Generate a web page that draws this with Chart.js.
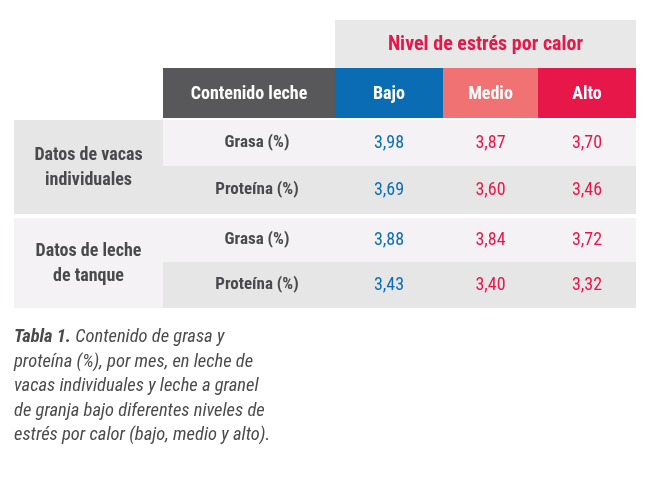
<!DOCTYPE html>
<html><head><meta charset="utf-8">
<script src="https://cdn.jsdelivr.net/npm/chart.js@4.4.1/dist/chart.umd.min.js"></script>
<style>html,body{margin:0;background:#fff}canvas{display:block}</style>
</head><body>
<canvas id="tbl" width="659" height="482"></canvas>
<script>
// Table data
const levelTitle = 'Nivel de estrés por calor';
const levels = ['Bajo', 'Medio', 'Alto'];
const contentHeader = 'Contenido leche';
const groups = [['Datos de vacas', 'individuales'], ['Datos de leche', 'de tanque']];
const measures = ['Grasa (%)', 'Proteína (%)'];
const values = [
    [3.98, 3.87, 3.70],
    [3.69, 3.60, 3.46],
    [3.88, 3.84, 3.72],
    [3.43, 3.40, 3.32]
];
const captionBold = 'Tabla 1.';
const captionLines = [' Contenido de grasa y', 'proteína (%), por mes, en leche de',
    'vacas individuales y leche a granel', 'de granja bajo diferentes niveles de',
    'estrés por calor (bajo, medio y alto).'];

const FONT = "'Liberation Sans Narrow', 'Roboto Condensed', 'Liberation Sans', sans-serif";
const RED = '#e8174a', BLUE = '#0a6db3', SALMON = '#f07272', DARK = '#58585a';
const levelColors = [BLUE, SALMON, RED];
const valueColors = [BLUE, RED, RED];

// column edges (px) and row edges (px)
const colX = [14, 163, 335, 443, 538, 636];
const rowY = [120, 166, 214, 218, 262, 308];

const fmt = v => v.toFixed(2).replace('.', ',');

const tablePlugin = {
    id: 'table',
    afterDraw(chart) {
        const c = chart.ctx;
        c.save();
        c.textAlign = 'center';
        c.textBaseline = 'middle';
        const text = (s, x, y, col, font) => { c.fillStyle = col; c.font = font; c.fillText(s, x, y); };

        // header
        c.fillStyle = '#e8e8e8';
        c.fillRect(colX[2], 20, colX[5] - colX[2], 48);
        text(levelTitle, (colX[2] + colX[5]) / 2, 45, RED, 'bold 20px ' + FONT);
        c.fillStyle = DARK;
        c.fillRect(colX[1], 68, colX[2] - colX[1], 50);
        text(contentHeader, (colX[1] + colX[2]) / 2, 94, '#fff', 'bold 18px ' + FONT);
        levels.forEach((l, i) => {
            c.fillStyle = levelColors[i];
            c.fillRect(colX[2 + i], 68, colX[3 + i] - colX[2 + i], 50);
            text(l, (colX[2 + i] + colX[3 + i]) / 2, 94, '#fff', 'bold 18px ' + FONT);
        });

        // body
        const rows = [[0, 1], [3, 4]];
        groups.forEach((g, gi) => {
            const top = rowY[rows[gi][0]], bot = rowY[rows[gi][1] + 1];
            c.fillStyle = gi === 0 ? '#e7e6e7' : '#f4f2f4';
            c.fillRect(colX[0], top, colX[1] - colX[0], bot - top);
            const cy = (top + bot) / 2;
            text(g[0], (colX[0] + colX[1]) / 2, cy - 12, '#4a4a4c', 'bold 18px ' + FONT);
            text(g[1], (colX[0] + colX[1]) / 2, cy + 13, '#4a4a4c', 'bold 18px ' + FONT);
            measures.forEach((m, mi) => {
                const r = rows[gi][mi];
                const y0 = rowY[r], y1 = rowY[r + 1], ym = (y0 + y1) / 2;
                c.fillStyle = mi === 0 ? '#f4f2f4' : '#e7e6e7';
                c.fillRect(colX[1], y0, colX[5] - colX[1], y1 - y0);
                text(m, (colX[1] + colX[2]) / 2 + 8, ym, '#4a4a4c', 'bold 17px ' + FONT);
                values[gi * 2 + mi].forEach((v, vi) => {
                    text(fmt(v), (colX[2 + vi] + colX[3 + vi]) / 2, ym, valueColors[vi], '18px ' + FONT);
                });
            });
        });

        // caption
        c.textAlign = 'left';
        c.textBaseline = 'alphabetic';
        c.fillStyle = '#4a4a4c';
        c.font = 'italic bold 18.5px ' + FONT;
        c.fillText(captionBold, 14, 342);
        const w = c.measureText(captionBold).width;
        c.font = 'italic 18.5px ' + FONT;
        captionLines.forEach((l, i) => c.fillText(l, i === 0 ? 14 + w : 14, 342 + i * 24.5));
        c.restore();
    }
};

new Chart(document.getElementById('tbl'), {
    type: 'scatter',
    data: { datasets: [] },
    options: {
        responsive: false,
        animation: false,
        plugins: { legend: { display: false }, tooltip: { enabled: false } },
        scales: { x: { display: false }, y: { display: false } }
    },
    plugins: [tablePlugin]
});
</script>
</body></html>
